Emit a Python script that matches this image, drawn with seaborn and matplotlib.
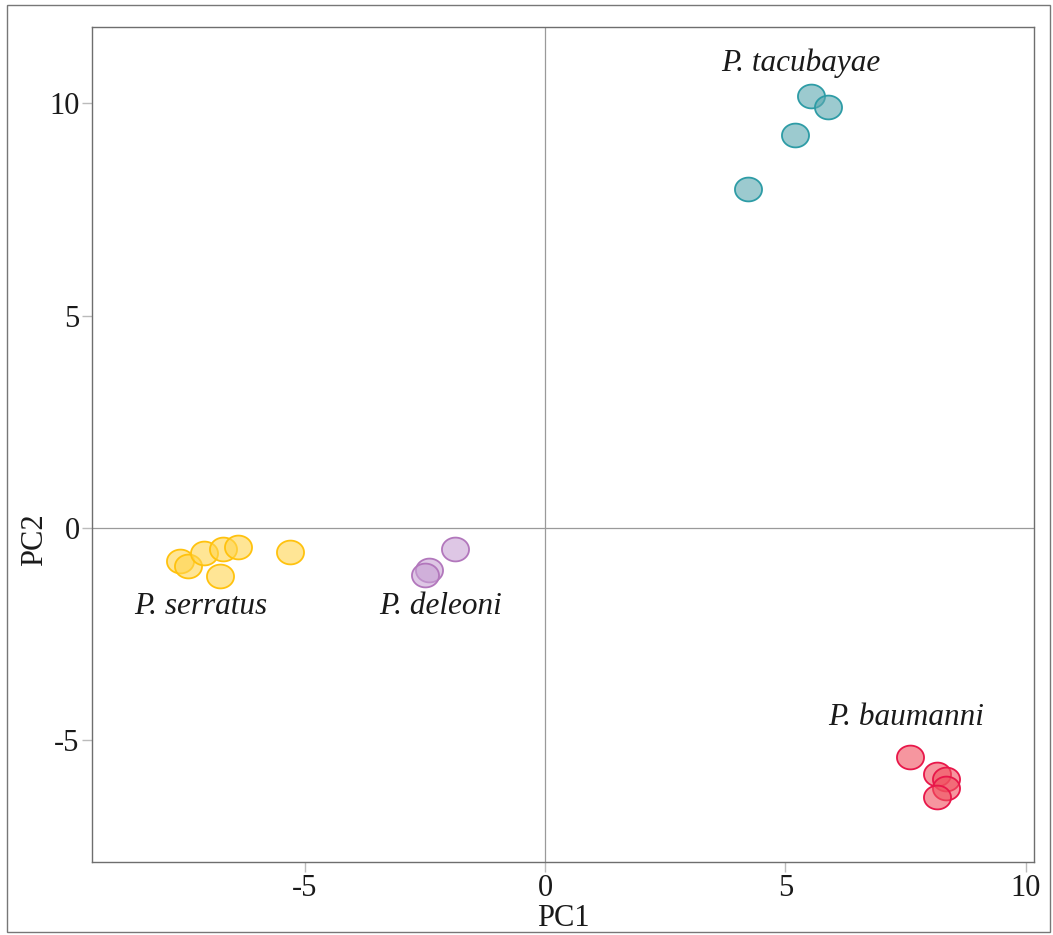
import numpy as np
import pandas as pd
import matplotlib
matplotlib.use("Agg")
import matplotlib.pyplot as plt
import seaborn as sns
from matplotlib.path import Path
from matplotlib.patches import Rectangle
from matplotlib.colors import to_rgba

species = ["P. serratus", "P. deleoni", "P. tacubayae", "P. baumanni"]
serratus_pc1 = [-7.60, -7.43, -7.10, -6.70, -6.39, -6.75, -5.31]
serratus_pc2 = [-0.77, -0.89, -0.60, -0.49, -0.44, -1.12, -0.57]
deleoni_pc1 = [-1.88, -2.42, -2.50]
deleoni_pc2 = [-0.49, -0.99, -1.11]
tacubayae_pc1 = [5.54, 5.88, 5.21, 4.23]
tacubayae_pc2 = [10.16, 9.91, 9.24, 7.98]
baumanni_pc1 = [7.59, 8.16, 8.35, 8.33, 8.16]
baumanni_pc2 = [-5.39, -5.79, -5.91, -6.13, -6.34]

fills = ["#FFD54F", "#C8A2D4", "#5AA8AF", "#F0505F"]
edges = ["#FFC20E", "#B277BC", "#2E9CA6", "#E8174A"]
label_pos = {"P. serratus": (-7.15, -1.84), "P. deleoni": (-2.17, -1.84),
             "P. tacubayae": (5.31, 10.94), "P. baumanni": (7.52, -4.45)}

rows = []
for sp, xs, ys in zip(species,
                      [serratus_pc1, deleoni_pc1, tacubayae_pc1, baumanni_pc1],
                      [serratus_pc2, deleoni_pc2, tacubayae_pc2, baumanni_pc2]):
    for a, b in zip(xs, ys):
        rows.append({"PC1": a, "PC2": b, "species": sp})
df = pd.DataFrame(rows)

sns.set_style("white")
plt.rcParams["font.family"] = ["Liberation Serif", "DejaVu Serif"]

fig = plt.figure(figsize=(10.53, 9.35), dpi=100)
ax = fig.add_axes([92/1053, 1-862/935, (1034-92)/1053, (862-27)/935])

# elliptical marker (wider than tall)
t = np.linspace(0, 2*np.pi, 60)
ell = Path(np.column_stack([np.cos(t), 0.88*np.sin(t)]), closed=True)

ax.axhline(0, color="#9a9a9a", lw=0.9, zorder=0)
ax.axvline(0, color="#9a9a9a", lw=0.9, zorder=0)

for sp, fc, ec in zip(species, fills, edges):
    sub = df[df["species"] == sp]
    sns.scatterplot(data=sub, x="PC1", y="PC2", ax=ax, marker=ell, s=380,
                    color=to_rgba(fc, 0.6), edgecolor=ec, linewidth=1.3,
                    legend=False, zorder=3)
    lx, ly = label_pos[sp]
    ax.text(lx, ly, sp, ha="center", va="center", style="italic",
            fontsize=22.5, color="#1a1a1a")

ax.set_xlim(-9.42, 10.17)
ax.set_ylim(-7.86, 11.79)
ax.set_xticks([-5, 0, 5, 10])
ax.set_xticklabels(["-5", "0", "5", "10"])
ax.set_yticks([-5, 0, 5, 10])
ax.set_yticklabels(["-5", "0", "5", "10"])
ax.tick_params(axis="both", which="both", direction="out", length=7, width=1,
               color="#bbbbbb", labelsize=22, labelcolor="#1a1a1a", pad=2,
               bottom=True, left=True)
for s in ax.spines.values():
    s.set_color("#6e6e6e")
    s.set_linewidth(1.0)
ax.set_xlabel("PC1", fontsize=22, color="#1a1a1a", labelpad=0)
ax.set_ylabel("PC2", fontsize=22, color="#1a1a1a")
ax.yaxis.set_label_coords(-0.046, 0.386)

fig.patches.append(Rectangle((7/1053, 1-932/935), (1050-7)/1053, (932-5)/935,
                             transform=fig.transFigure, fill=False,
                             edgecolor="#777777", linewidth=1.0, zorder=-1))

fig.savefig("out.png", dpi=100)
